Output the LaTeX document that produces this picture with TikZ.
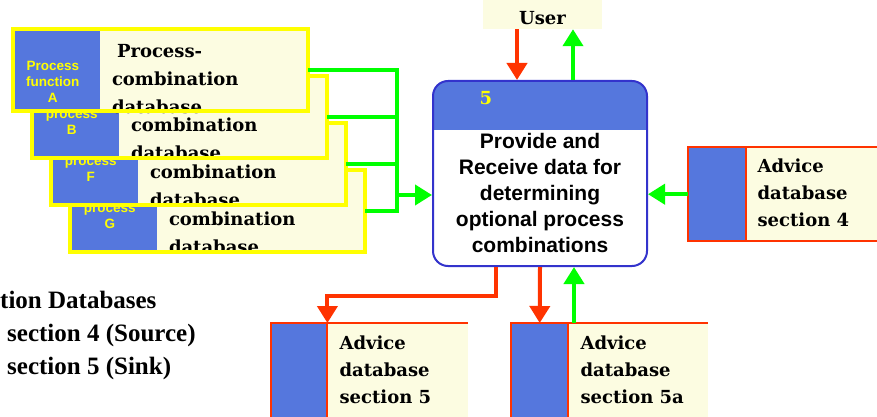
\documentclass[tikz,border=0pt]{standalone}
\usepackage{fontspec}
\usetikzlibrary{arrows.meta}
\newfontfamily\dbfont{DejaVu Serif}
\newfontfamily\procfont{Liberation Sans}
\newfontfamily\notefont{Liberation Serif}
\definecolor{procblue}{HTML}{5577DD}
\definecolor{rimblue}{HTML}{3333CC}
\definecolor{dbfill}{HTML}{FCFCE1}
\definecolor{frameyellow}{HTML}{FFFF00}
\definecolor{flowgreen}{HTML}{00FF00}
\definecolor{flowred}{HTML}{FF3300}
\tikzstyle{dbbox}=[rectangle, fill=dbfill, minimum width=295pt, minimum height=82pt, inner sep=0pt,
  path picture={\fill[procblue] (path picture bounding box.north west) rectangle ([xshift=87pt]path picture bounding box.south west);}]
\tikzstyle{dbedge}=[draw=frameyellow, line width=4pt]
\tikzstyle{dbtext}=[anchor=north west, inner sep=0pt, align=left, font=\dbfont\bfseries\fontsize{18}{28}\selectfont]
\tikzstyle{keytext}=[anchor=north, inner sep=0pt, align=center, text=frameyellow, font=\procfont\bfseries\fontsize{13.5}{16}\selectfont]
\tikzstyle{proc}=[rectangle, rounded corners=15pt, draw=rimblue, line width=2pt, fill=white, minimum width=214pt, minimum height=185pt,
  path picture={\fill[procblue, sharp corners] (path picture bounding box.north west) rectangle ([yshift=-49pt]path picture bounding box.north east);}]
\tikzstyle{proctext}=[align=center, inner sep=0pt, font=\procfont\bfseries\fontsize{21}{26}\selectfont]
\tikzstyle{userbox}=[rectangle, fill=dbfill, inner sep=0pt, minimum width=119pt, minimum height=29pt, text height=21pt, text depth=0pt, font=\dbfont\bfseries\fontsize{18}{22}\selectfont]
\tikzstyle{advbox}=[rectangle, fill=dbfill, inner sep=0pt, anchor=north west]
\tikzstyle{advkey}=[rectangle, fill=procblue, inner sep=0pt, anchor=north west]
\tikzstyle{advedge}=[draw=flowred, line width=2pt]
\tikzstyle{advtext}=[anchor=north west, inner sep=0pt, align=left, font=\dbfont\bfseries\fontsize{18}{27}\selectfont]
\tikzstyle{notetext}=[anchor=north west, inner sep=0pt, align=left, font=\notefont\bfseries\fontsize{25}{33}\selectfont]
\tikzstyle{greenflow}=[draw=flowgreen, line width=4pt]
\tikzstyle{redflow}=[draw=flowred, line width=4pt]

\begin{document}
\begin{tikzpicture}[x=1pt, y=1pt, >={Triangle[width=20pt,length=17pt]}]
  \useasboundingbox (0,0) rectangle (877,-417);
  \clip (0,0) rectangle (877,-417);

  % stack of process-combination databases, back to front
  \node[dbbox] (dbG) at (217.5,-211) {};
  \node[dbtext] (txtG) at ([xshift=99pt,yshift=-42pt]dbG.north west) {combination\\database};
  \node[keytext] (keyG) at ([xshift=40pt,yshift=-35pt]dbG.north west) {process\\G};
  \draw[dbedge] (dbG.north west) rectangle (dbG.south east);

  \node[dbbox] (dbF) at (198.5,-164) {};
  \node[dbtext] (txtF) at ([xshift=99pt,yshift=-42pt]dbF.north west) {combination\\database};
  \node[keytext] (keyF) at ([xshift=40pt,yshift=-35pt]dbF.north west) {process\\F};
  \draw[dbedge] (dbF.north west) rectangle (dbF.south east);

  \node[dbbox] (dbB) at (179.5,-117) {};
  \node[dbtext] (txtB) at ([xshift=99pt,yshift=-42pt]dbB.north west) {combination\\database};
  \node[keytext] (keyB) at ([xshift=40pt,yshift=-35pt]dbB.north west) {process\\B};
  \draw[dbedge] (dbB.north west) rectangle (dbB.south east);

  \node[dbbox] (dbA) at (160.5,-70) {};
  \node[dbtext] (txtA) at ([xshift=99pt,yshift=-15pt]dbA.north west) {\hspace*{5pt}Process-\\combination\\database};
  \node[keytext] (keyA) at ([xshift=40pt,yshift=-32pt]dbA.north west) {Process\\function\\A};
  \draw[dbedge] (dbA.north west) rectangle (dbA.south east);

  % process 5
  \node[proc] (proc) at (540,-173.5) {};
  \node[font=\dbfont\bfseries\fontsize{18}{22}\selectfont, text=frameyellow, inner sep=0pt] (procnum) at ([xshift=54pt,yshift=-18pt]proc.north west) {5};
  \node[proctext] (procbody) at ([yshift=-19pt]proc.center) {Provide and\\Receive data for\\determining\\optional process\\combinations};

  \node[userbox] (user) at (542.5,-14.5) {User};

  % advice databases
  \node[advbox, minimum width=212pt, minimum height=94pt] (adv4) at (688,-147) {};
  \node[advkey, minimum width=58pt, minimum height=94pt] (a4key) at (adv4.north west) {};
  \node[advtext] (a4text) at ([xshift=11pt,yshift=-12pt]a4key.north east) {Advice\\database\\section 4};
  \draw[advedge] (adv4.south east) -- (adv4.south west) -- (adv4.north west) -- (adv4.north east)
    (a4key.north east) -- (a4key.south east);

  \node[advbox, minimum width=197pt, minimum height=120pt] (adv5) at (271,-323) {};
  \node[advkey, minimum width=56pt, minimum height=120pt] (a5key) at (adv5.north west) {};
  \node[advtext] (a5text) at ([xshift=12pt,yshift=-13pt]a5key.north east) {Advice\\database\\section 5};
  \draw[advedge] (adv5.south west) -- (adv5.north west) -- (adv5.north east)
    (a5key.north east) -- (a5key.south east);

  \node[advbox, minimum width=197pt, minimum height=120pt] (adv5a) at (511,-323) {};
  \node[advkey, minimum width=57pt, minimum height=120pt] (a5akey) at (adv5a.north west) {};
  \node[advtext] (a5atext) at ([xshift=12pt,yshift=-13pt]a5akey.north east) {Advice\\database\\section 5a};
  \draw[advedge] (adv5a.south west) -- (adv5a.north west) -- (adv5a.north east)
    (a5akey.north east) -- (a5akey.south east);

  \node[notetext] (legend) at (0,-291) {tion Databases\\\hspace*{7pt}section 4 (Source)\\\hspace*{7pt}section 5 (Sink)};

  % data flows
  \coordinate (merge) at (397,-195);
  \draw[greenflow] (dbA.east) -| (merge);
  \draw[greenflow] (dbB.east) -| (merge);
  \draw[greenflow] (dbF.east) -| (merge);
  \draw[greenflow] (dbG.east) -| (merge);
  \draw[greenflow, ->] (merge) -- (merge -| proc.west);
  \draw[greenflow, ->] (adv4.west) -- (adv4.west -| proc.east);

  \draw[redflow, ->] ([xshift=-23pt]proc.north |- user.south) -- ([xshift=-23pt]proc.north);
  \draw[greenflow, ->] ([xshift=33pt]proc.north) -- ([xshift=33pt]proc.north |- user.south);

  \draw[redflow, ->] ([xshift=-44pt]proc.south) -- ++(0,-29) -| (a5key.north east);
  \draw[redflow, ->] (proc.south) -- (a5akey.north);
  \draw[greenflow, ->] ([xshift=34pt]proc.south |- adv5a.north) -- ([xshift=34pt]proc.south);
\end{tikzpicture}
\end{document}
